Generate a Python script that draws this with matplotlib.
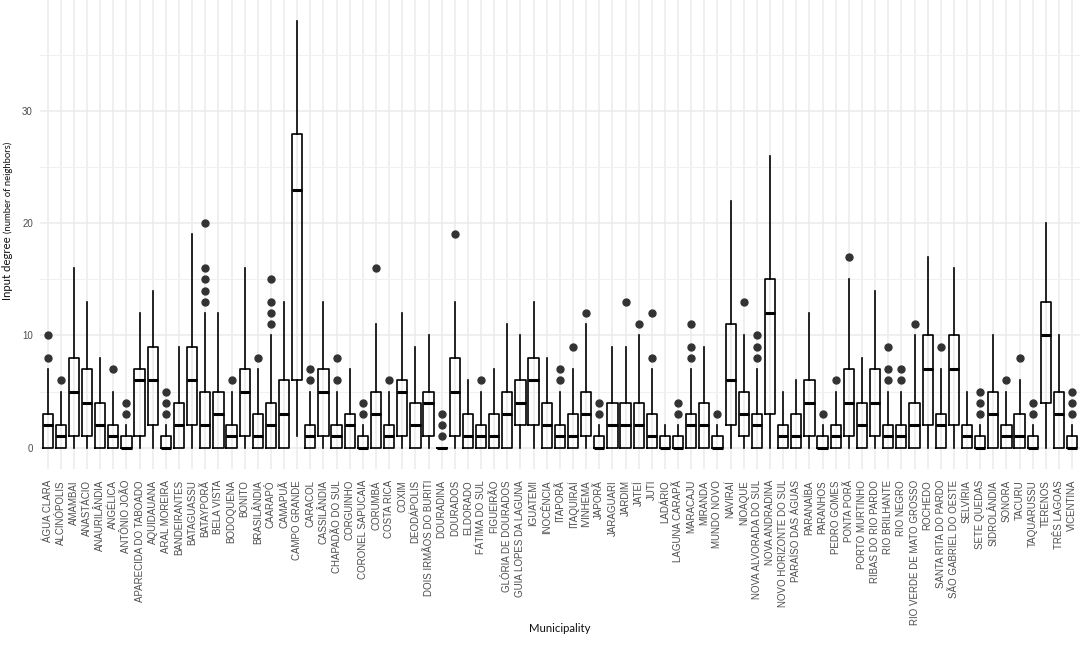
import matplotlib
matplotlib.use("Agg")
import matplotlib.pyplot as plt
from matplotlib.ticker import MultipleLocator

plt.rcParams["font.family"] = ["Liberation Sans", "DejaVu Sans"]

municipalities = [
    "ÁGUA CLARA", "ALCINÓPOLIS", "AMAMBAI", "ANASTÁCIO", "ANAURILÂNDIA", "ANGÉLICA",
    "ANTÔNIO JOÃO", "APARECIDA DO TABOADO", "AQUIDAUANA", "ARAL MOREIRA", "BANDEIRANTES",
    "BATAGUASSU", "BATAYPORÃ", "BELA VISTA", "BODOQUENA", "BONITO", "BRASILÂNDIA",
    "CAARAPÓ", "CAMAPUÃ", "CAMPO GRANDE", "CARACOL", "CASSILÂNDIA", "CHAPADÃO DO SUL",
    "CORGUINHO", "CORONEL SAPUCAIA", "CORUMBÁ", "COSTA RICA", "COXIM", "DEODÁPOLIS",
    "DOIS IRMÃOS DO BURITI", "DOURADINA", "DOURADOS", "ELDORADO", "FÁTIMA DO SUL",
    "FIGUEIRÃO", "GLÓRIA DE DOURADOS", "GUIA LOPES DA LAGUNA", "IGUATEMI", "INOCÊNCIA",
    "ITAPORÃ", "ITAQUIRAÍ", "IVINHEMA", "JAPORÃ", "JARAGUARI", "JARDIM", "JATEÍ", "JUTI",
    "LADÁRIO", "LAGUNA CARAPÃ", "MARACAJU", "MIRANDA", "MUNDO NOVO", "NAVIRAÍ", "NIOAQUE",
    "NOVA ALVORADA DO SUL", "NOVA ANDRADINA", "NOVO HORIZONTE DO SUL", "PARAÍSO DAS ÁGUAS",
    "PARANAÍBA", "PARANHOS", "PEDRO GOMES", "PONTA PORÃ", "PORTO MURTINHO",
    "RIBAS DO RIO PARDO", "RIO BRILHANTE", "RIO NEGRO", "RIO VERDE DE MATO GROSSO",
    "ROCHEDO", "SANTA RITA DO PARDO", "SÃO GABRIEL DO OESTE", "SELVÍRIA", "SETE QUEDAS",
    "SIDROLÂNDIA", "SONORA", "TACURU", "TAQUARUSSU", "TERENOS", "TRÊS LAGOAS", "VICENTINA",
]

whis_lo = [0] * 79
whis_lo[19] = 1  # campo grande

q1 = [0, 0, 1, 1, 0, 0, 0, 1, 2, 0, 0, 2, 0, 0, 0, 1, 0, 0, 0, 6,
      0, 1, 0, 0, 0, 0, 0, 1, 0, 1, 0, 1, 0, 0, 0, 0, 2, 2, 0, 0,
      0, 1, 0, 0, 0, 0, 0, 0, 0, 0, 0, 0, 2, 1, 0, 3, 0, 0, 1, 0,
      0, 1, 0, 1, 0, 0, 0, 2, 0, 2, 0, 0, 0, 0, 0, 0, 4, 0, 0]

medians = [2, 1, 5, 4, 2, 1, 0, 6, 6, 0, 2, 6, 2, 3, 1, 5, 1, 2, 3, 23,
           1, 5, 1, 2, 0, 3, 1, 5, 2, 4, 0, 5, 1, 1, 1, 3, 4, 6, 2, 1,
           1, 3, 0, 2, 2, 2, 1, 0, 0, 2, 2, 0, 6, 3, 2, 12, 1, 1, 4, 0,
           1, 4, 2, 4, 1, 1, 2, 7, 2, 7, 1, 0, 3, 1, 1, 0, 10, 3, 0]

q3 = [3, 2, 8, 7, 4, 2, 1, 7, 9, 1, 4, 9, 5, 5, 2, 7, 3, 4, 6, 28,
      2, 7, 2, 3, 1, 5, 2, 6, 4, 5, 0, 8, 3, 2, 3, 5, 6, 8, 4, 2,
      3, 5, 1, 4, 4, 4, 3, 1, 1, 3, 4, 1, 11, 5, 3, 15, 2, 3, 6, 1,
      2, 7, 4, 7, 2, 2, 4, 10, 3, 10, 2, 1, 5, 2, 3, 1, 13, 5, 1]

whis_hi = [7, 5, 16, 13, 8, 5, 2, 12, 14, 2, 9, 19, 12, 12, 5, 16, 7, 10, 13, 38,
           5, 13, 5, 7, 2, 11, 5, 12, 9, 10, 0, 13, 6, 5, 7, 11, 10, 13, 8, 5,
           7, 11, 2, 9, 9, 10, 7, 2, 2, 7, 9, 2, 22, 10, 7, 26, 5, 6, 12, 2,
           5, 15, 8, 14, 5, 5, 10, 17, 7, 16, 5, 2, 10, 5, 6, 2, 20, 10, 2]

outliers = [
    [8, 10], [6], [], [], [], [7], [3, 4], [], [], [3, 4, 5], [],
    [], [13, 14, 15, 16, 20], [], [6], [], [8], [11, 12, 13, 15], [], [],
    [6, 7], [], [6, 8], [], [3, 4], [16], [6], [], [], [], [1, 2, 3], [19],
    [], [6], [], [], [], [], [], [6, 7], [9], [12], [3, 4], [], [13], [11],
    [8, 12], [], [3, 4], [8, 9, 11], [], [3], [], [13], [8, 9, 10], [], [], [],
    [], [3], [6], [17], [], [], [6, 7, 9], [6, 7], [11], [], [9], [], [],
    [3, 4, 5], [], [6], [8], [3, 4], [], [], [3, 4, 5],
]

stats = []
for i, name in enumerate(municipalities):
    stats.append({
        "label": name,
        "whislo": whis_lo[i],
        "q1": q1[i],
        "med": medians[i],
        "q3": q3[i],
        "whishi": whis_hi[i],
        "fliers": outliers[i],
    })

fig = plt.figure(figsize=(10.84, 6.46), dpi=100)
ax = fig.add_axes([0.0367, 0.274, 0.9596, 0.726])

positions = list(range(1, len(municipalities) + 1))
ax.bxp(stats, positions=positions, widths=0.78, showcaps=False, patch_artist=False,
       boxprops=dict(color="black", linewidth=1.2),
       whiskerprops=dict(color="black", linewidth=1.2),
       medianprops=dict(color="black", linewidth=2.2, solid_capstyle="butt"),
       flierprops=dict(marker="o", markerfacecolor="#333333", markeredgecolor="#333333",
                       markersize=5))

ax.set_xlim(0.4, len(municipalities) + 0.6)
ax.set_ylim(-1.9, 39.9)
ax.yaxis.set_major_locator(MultipleLocator(10))
ax.yaxis.set_minor_locator(MultipleLocator(5))
ax.set_xticks(positions)
ax.set_xticklabels(municipalities, rotation=90, fontsize=7, color="#4d4d4d")
ax.tick_params(axis="y", labelsize=7, labelcolor="#4d4d4d", length=0, pad=5)
ax.tick_params(axis="x", length=0, pad=8)
ax.tick_params(which="minor", length=0)

ax.set_axisbelow(True)
ax.grid(True, which="major", color="#ebebeb", linewidth=1.1)
ax.grid(True, which="minor", axis="y", color="#f0f0f0", linewidth=0.7)
for s in ax.spines.values():
    s.set_visible(False)

# y label in two sizes
fig.canvas.draw()
r = fig.canvas.get_renderer()
t1 = fig.text(8 / 1084, (646 - 300) / 646, "Input degree", rotation=90, ha="center",
              va="bottom", fontsize=8.2, family="Lato", color="#111111")
bb = t1.get_window_extent(renderer=r)
fig.text(8 / 1084, (bb.y1 + 3) / 646, "(number of neighbors)", rotation=90, ha="center",
         va="bottom", fontsize=6.8, family="Lato", color="#111111")

fig.text(560 / 1084, (646 - 628) / 646, "Municipality", ha="center", va="center",
         fontsize=8.2, family="Lato", color="#111111")

fig.savefig("out.png", dpi=100, facecolor="white")
